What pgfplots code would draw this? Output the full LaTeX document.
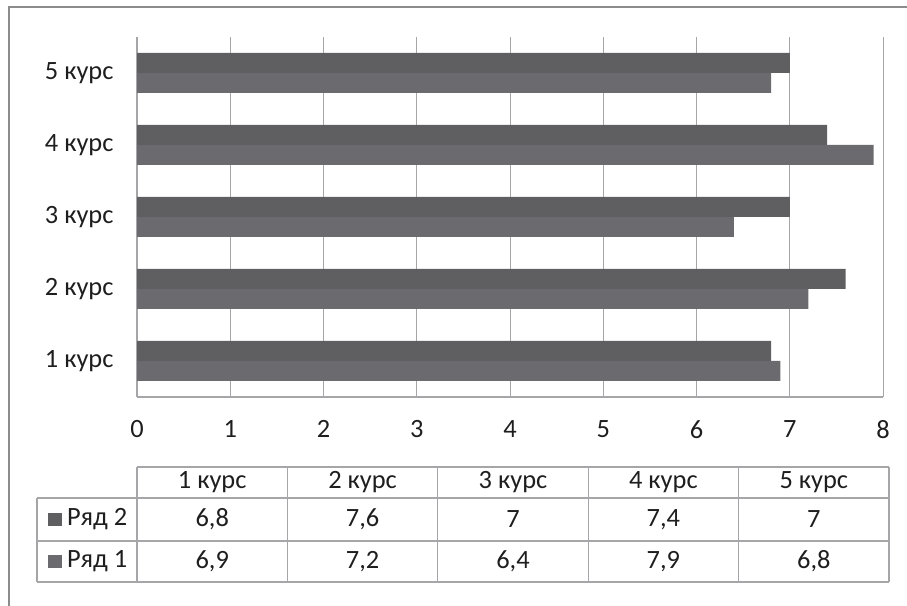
\documentclass[border=0pt]{standalone}
\usepackage{pgfplots}
\usepackage{pgfplotstable}
\pgfplotsset{compat=1.18}
\usepackage{fontspec}
\setmainfont{Carlito}

\definecolor{serA}{HTML}{6B6B6F}   % Ряд 1
\definecolor{serB}{HTML}{5F5F61}   % Ряд 2
\definecolor{gridgray}{HTML}{A6A6A8}
\definecolor{framegray}{HTML}{8C8C8C}
\definecolor{txt}{HTML}{1E1E1E}

\pgfplotstableread{
course r1  r2
1      6.9 6.8
2      7.2 7.6
3      6.4 7
4      7.9 7.4
5      6.8 7
}\grades

\newcommand{\lblfont}{\fontsize{26.5}{30}\selectfont}

\begin{document}
\begin{tikzpicture}[x=1bp,y=1bp]
\path[use as bounding box] (0,0) rectangle (907,606);
% outer frame
\draw[framegray, line width=2.5bp] (920,599) -- (9,599) -- (9,-10);

\begin{axis}[
  at={(137bp,209bp)}, anchor=south west,
  scale only axis, width=746bp, height=360bp,
  xmin=0, xmax=8, ymin=0.5, ymax=5.5,
  xtick={0,...,8}, ytick={1,...,5},
  yticklabels={1 курс,2 курс,3 курс,4 курс,5 курс},
  xmajorgrids, grid style={gridgray, line width=1bp},
  axis lines*=left,
  axis line style={gridgray, line width=1.2bp, -},
  major tick length=0pt,
  ticklabel style={font=\lblfont, text=txt},
  xticklabel style={yshift=-20bp},
  yticklabel style={xshift=-20bp},
  /pgf/number format/assume math mode=true,
  clip=false,
]
\addplot[xbar, fill=serA, draw=none, bar width=20bp, bar shift=-10bp]
  table[x=r1, y=course]{\grades};
\addplot[xbar, fill=serB, draw=none, bar width=20bp, bar shift=10bp]
  table[x=r2, y=course]{\grades};
\end{axis}

% data table under the chart
\begin{scope}[gridgray, line width=1.2bp]
  \draw (137,139) -- (889,139);
  \draw (37,108) -- (889,108);
  \draw (37,65) -- (889,65);
  \draw (37,24) -- (889,24);
  \draw (37,108) -- (37,24);
  \foreach \c in {0,...,5} {
    \pgfmathsetmacro{\xx}{137+150.4*\c}
    \draw (\xx,139) -- (\xx,24);
  }
\end{scope}

\foreach \i in {0,...,4} {
  \pgfmathsetmacro{\xc}{137+150.4*(\i+0.5)}
  \pgfmathtruncatemacro{\k}{\i+1}
  \node[txt, font=\lblfont] at (\xc,123.5) {\k{} курс};
  \pgfplotstablegetelem{\i}{r2}\of\grades
  \node[txt, font=\lblfont] at (\xc,86.5)
    {\pgfmathprintnumber[use comma, assume math mode=true]{\pgfplotsretval}};
  \pgfplotstablegetelem{\i}{r1}\of\grades
  \node[txt, font=\lblfont] at (\xc,44.5)
    {\pgfmathprintnumber[use comma, assume math mode=true]{\pgfplotsretval}};
}

% series keys
\fill[serB] (48,80) rectangle (62,93);
\node[txt, font=\lblfont, anchor=west, inner sep=0pt] at (67,86.5) {Ряд 2};
\fill[serA] (48,38) rectangle (62,51);
\node[txt, font=\lblfont, anchor=west, inner sep=0pt] at (67,44.5) {Ряд 1};
\end{tikzpicture}
\end{document}
